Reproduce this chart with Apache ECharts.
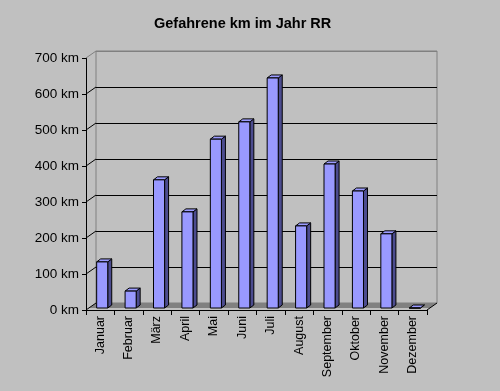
<!DOCTYPE html>
<html><head><meta charset="utf-8">
<script src="https://cdn.jsdelivr.net/npm/echarts@6/dist/echarts.min.js"></script>
<style>html,body{margin:0;padding:0;background:#C0C0C0}#c{width:500px;height:391px}</style>
</head><body><div id="c"></div>
<script>
const title = 'Gefahrene km im Jahr RR';
const months = ['Januar','Februar','März','April','Mai','Juni','Juli','August','September','Oktober','November','Dezember'];
const km = [128, 47, 356, 267, 469, 517, 639, 228, 400, 325, 206, 0];
const yTicks = [0, 100, 200, 300, 400, 500, 600, 700];

const DX = 10, DY = -7; // wall depth offset
const BX = 2, BY = -2;  // bar offset into depth
const SX = 4, SY = -3;  // bar own depth

const chart = echarts.init(document.getElementById('c'), null, {renderer: 'canvas'});
const font = '"Liberation Sans", Arial, sans-serif';

chart.setOption({
  backgroundColor: '#C0C0C0',
  animation: false,
  title: {text: title, left: 149, top: 11,
    textStyle: {fontFamily: font, fontSize: 14.5, fontWeight: 'bold', color: '#000'}},
  grid: [
    {left: 96, top: 51, right: 63, bottom: 88, show: true, borderColor: '#808080', borderWidth: 1, backgroundColor: '#C0C0C0'},
    {left: 86, top: 58, right: 73, bottom: 81}
  ],
  xAxis: [
    {gridIndex: 0, type: 'category', data: months, show: false},
    {gridIndex: 1, type: 'category', data: months,
      axisLine: {show: true, lineStyle: {color: '#000', width: 1}},
      axisTick: {show: true, alignWithLabel: false, length: 5, lineStyle: {color: '#000'}},
      axisLabel: {rotate: 90, interval: 0, margin: 6, fontFamily: font, fontSize: 12.5, color: '#000'},
      splitLine: {show: false}}
  ],
  yAxis: [
    {gridIndex: 0, type: 'value', min: 0, max: 700, interval: 100,
      axisLine: {show: false}, axisTick: {show: false}, axisLabel: {show: false},
      splitLine: {show: true, lineStyle: {color: ['#808080', '#000', '#000', '#000', '#000', '#000', '#000', '#808080'], width: 1}}},
    {gridIndex: 1, type: 'value', min: 0, max: 700, interval: 100,
      axisLine: {show: true, lineStyle: {color: '#000'}},
      axisTick: {show: true, length: 4, lineStyle: {color: '#000'}},
      axisLabel: {formatter: '{value} km', margin: 7, fontFamily: font, fontSize: 13.5, color: '#000'},
      splitLine: {show: false}}
  ],
  series: [
    { // floor + side connectors
      type: 'custom', xAxisIndex: 1, yAxisIndex: 1, z: 1, silent: true,
      data: yTicks.map(v => [0, v]),
      renderItem: function (params, api) {
        const v = api.value(1);
        const p = api.coord([0, v]);
        const x0 = p[0] - api.size([1, 0])[0] / 2;
        const children = [{
          type: 'line',
          shape: {x1: x0, y1: p[1], x2: x0 + DX, y2: p[1] + DY},
          style: {stroke: v === 700 ? '#808080' : '#000', lineWidth: 1}
        }];
        if (v === 0) {
          const pr = api.coord([months.length - 1, 0]);
          const x1 = pr[0] + api.size([1, 0])[0] / 2;
          children.unshift({
            type: 'polygon',
            shape: {points: [[x0 + 3, p[1] - 2], [x1 + 3, p[1] - 2], [x1 + DX, p[1] + DY], [x0 + DX, p[1] + DY]]},
            style: {fill: '#808080', stroke: null}
          });
          children.push({
            type: 'line',
            shape: {x1: x1, y1: p[1], x2: x1 + DX, y2: p[1] + DY},
            style: {stroke: '#000', lineWidth: 1}
          });
        }
        return {type: 'group', children: children};
      }
    },
    { // 3D bars
      type: 'custom', xAxisIndex: 1, yAxisIndex: 1, z: 5,
      data: km.map((v, i) => [i, v]),
      renderItem: function (params, api) {
        const i = api.value(0), v = api.value(1);
        const top = api.coord([i, v]);
        const base = api.coord([i, 0]);
        const w = api.size([1, 0])[0] * 0.39;
        const x = top[0] - w / 2 + BX;
        const yT = top[1] + BY, yB = base[1] + BY;
        const ln = {stroke: '#000', lineWidth: 1};
        return {type: 'group', children: [
          {type: 'polygon', shape: {points: [[x + w, yT], [x + w + SX, yT + SY], [x + w + SX, yB + SY], [x + w, yB]]},
            style: Object.assign({fill: '#4C4C8F'}, ln)},
          {type: 'polygon', shape: {points: [[x, yT], [x + SX, yT + SY], [x + w + SX, yT + SY], [x + w, yT]]},
            style: Object.assign({fill: '#9C9CFF'}, ln)},
          {type: 'rect', shape: {x: x, y: yT, width: w, height: yB - yT},
            style: Object.assign({fill: '#9999FF'}, ln)}
        ]};
      }
    }
  ]
});
</script></body></html>
